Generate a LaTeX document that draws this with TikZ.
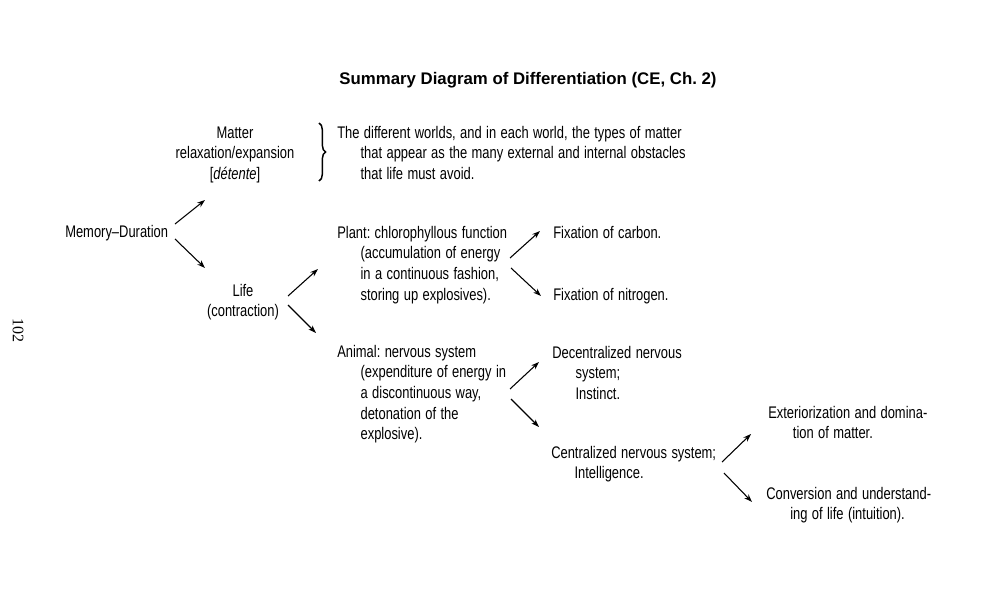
\documentclass[tikz,border=0pt]{standalone}
\usepackage{fontspec}
\setmainfont[FakeStretch=0.77]{Liberation Sans}
\newfontfamily\titlefont{Liberation Sans}
\newfontfamily\pagefont{Liberation Serif}
\usetikzlibrary{arrows.meta,decorations.pathreplacing}
\newcommand{\ind}{\hspace*{17.5pt}}
\newcommand{\txtfont}{\fontsize{12.6}{15.5}\selectfont}
\frenchspacing
\tikzset{
  txt/.style={inner sep=0pt, anchor=base west, align=left, text width=260pt,
    font=\txtfont, execute at begin node={\spaceskip=3.3pt plus 1pt\relax}},
  ctr/.style={inner sep=0pt, anchor=base, align=center, text width=112pt,
    font=\txtfont, execute at begin node={\spaceskip=3.3pt plus 1pt\relax}},
  arr/.style={line width=0.8pt, -{Stealth[length=6pt,width=4.2pt]}},
  bracestyle/.style={line width=1.1pt, decorate, decoration={brace, amplitude=5pt}}
}
\begin{document}
\begin{tikzpicture}[x=0.75pt,y=-0.75pt]
\useasboundingbox (0,0) rectangle (981,596);
% title
\node[inner sep=0pt, anchor=base, font=\titlefont\bfseries\fontsize{12.6}{15}\selectfont] (title) at (528,84) {Summary Diagram of Differentiation (CE, Ch.~2)};
% page number
\node[inner sep=0pt, rotate=-90, font=\pagefont\fontsize{12}{14}\selectfont] (page) at (18,330) {102};
% matter
\node[ctr] (matter) at (235,138) {Matter\\relaxation/expansion\\{[}\textit{détente}{]}};
\coordinate (bt) at (319,123);
\coordinate (bb) at (319,181);
\draw[bracestyle] (bt) -- (bb);
\node[txt, text width=360pt] (worlds) at (337,138) {The different worlds, and in each world, the types of matter\\\ind that appear as the many external and internal obstacles\\\ind that life must avoid.};
% memory
\node[txt, text width=100pt] (md) at (65,237) {Memory--Duration};
% life
\node[ctr] (life) at (243,296) {Life\\(contraction)};
% plant
\node[txt] (plant) at (337,238) {Plant: chlorophyllous function\\\ind(accumulation of energy\\\ind in a continuous fashion,\\\ind storing up explosives).};
\node[txt] (carbon) at (553,238) {Fixation of carbon.};
\node[txt] (nitro) at (553,300) {Fixation of nitrogen.};
% animal
\node[txt] (animal) at (337,357) {Animal: nervous system\\\ind(expenditure of energy in\\\ind a discontinuous way,\\\ind detonation of the\\\ind explosive).};
\node[txt] (decen) at (552,358) {Decentralized nervous\\\ind system;\\\ind Instinct.};
\node[txt] (cen) at (551,458) {Centralized nervous system;\\\ind Intelligence.};
\node[txt] (ext) at (768,418) {Exteriorization and domina-\\\hspace*{18.5pt}tion of matter.};
\node[txt] (conv) at (766,499) {Conversion and understand-\\\hspace*{18pt}ing of life (intuition).};
% arrow end points
\coordinate (a1s) at (175,224); \coordinate (a1e) at (205,200);
\coordinate (a2s) at (175,239); \coordinate (a2e) at (205,268);
\coordinate (a3s) at (288,296); \coordinate (a3e) at (318,269);
\coordinate (a4s) at (288,305); \coordinate (a4e) at (316,333);
\coordinate (a5s) at (510,258); \coordinate (a5e) at (540,231);
\coordinate (a6s) at (511,268); \coordinate (a6e) at (541,296);
\coordinate (a7s) at (510,389); \coordinate (a7e) at (539,362);
\coordinate (a8s) at (511,399); \coordinate (a8e) at (539,427);
\coordinate (a9s) at (722,462); \coordinate (a9e) at (751,434);
\coordinate (a10s) at (724,473); \coordinate (a10e) at (752,502);
\draw[arr] (a1s) -- (a1e);
\draw[arr] (a2s) -- (a2e);
\draw[arr] (a3s) -- (a3e);
\draw[arr] (a4s) -- (a4e);
\draw[arr] (a5s) -- (a5e);
\draw[arr] (a6s) -- (a6e);
\draw[arr] (a7s) -- (a7e);
\draw[arr] (a8s) -- (a8e);
\draw[arr] (a9s) -- (a9e);
\draw[arr] (a10s) -- (a10e);
\end{tikzpicture}
\end{document}
